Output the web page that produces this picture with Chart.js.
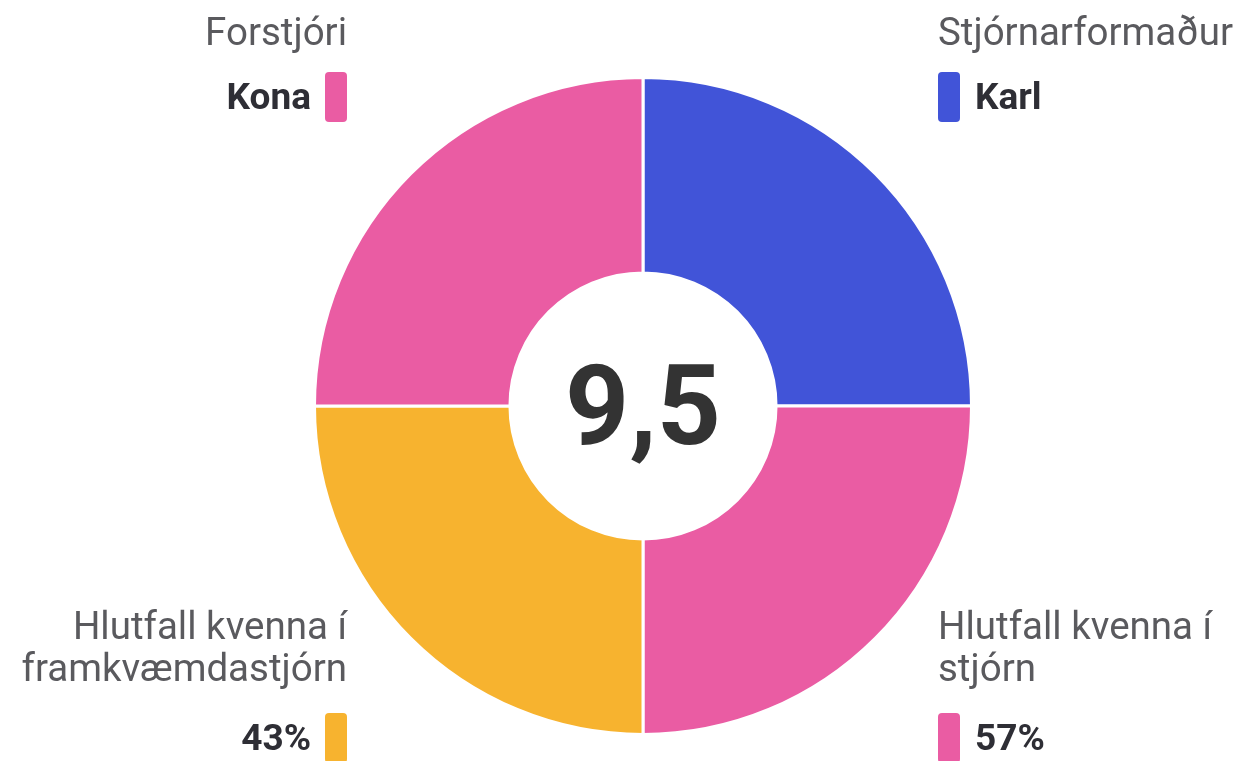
<!DOCTYPE html>
<html>
<head>
    <meta charset="UTF-8">
    <title>Kynjahlutfall</title>
    <script src="https://cdn.jsdelivr.net/npm/chart.js"></script>
    <style>
        html, body { margin: 0; padding: 0; background: #fff; }
        body { width: 1245px; height: 761px; position: relative; overflow: hidden; font-family: Roboto, "Noto Sans", sans-serif; }
        #chartBox { position: absolute; left: 0; top: 0; width: 1245px; height: 761px; }
        .lbl { position: absolute; font-size: 38.5px; color: #5a5a5e; line-height: 42px; white-space: nowrap; }
        .val { position: absolute; font-size: 37px; font-weight: bold; color: #2e2e35; line-height: 42px; white-space: nowrap; }
        .sw { position: absolute; width: 22px; height: 50px; border-radius: 4px; }
        .right { text-align: right; }
        #center { position: absolute; left: 543px; width: 200px; top: 336px; text-align: center; font-size: 112px; font-weight: bold; color: #333; line-height: 140px; }
    </style>
</head>
<body>
<div id="chartBox"><canvas id="donut"></canvas></div>
<div id="overlay"></div>
<div id="center"></div>
<script>
    // gögn
    var categories = ['Stjórnarformaður', 'Hlutfall kvenna í stjórn', 'Hlutfall kvenna í framkvæmdastjórn', 'Forstjóri'];
    var displayValues = ['Karl', '57%', '43%', 'Kona'];
    var sliceWeights = [1, 1, 1, 1];
    var sliceColors = ['#4154d8', '#ea5ca3', '#f7b32f', '#ea5ca3'];
    var centerValue = '9,5';

    var ctx = document.getElementById('donut').getContext('2d');
    var donut = new Chart(ctx, {
        type: 'doughnut',
        data: {
            labels: categories,
            datasets: [{
                data: sliceWeights,
                backgroundColor: sliceColors,
                borderColor: '#ffffff',
                borderWidth: 3
            }]
        },
        options: {
            responsive: true,
            maintainAspectRatio: false,
            animation: false,
            cutout: '40.5%',
            layout: {
                padding: { top: 76, bottom: 25, left: 313, right: 272 }
            },
            plugins: {
                legend: { display: false },
                tooltip: { enabled: false }
            }
        }
    });

    document.getElementById('center').textContent = centerValue;

    // merkimiðar við hvert horn
    var spots = [
        { side: 'left',  lines: [categories[0]], top: 11, swatchTop: 72, valTop: 76 },
        { side: 'left',  lines: ['Hlutfall kvenna í', 'stjórn'], top: 605, swatchTop: 713, valTop: 717 },
        { side: 'right', lines: ['Hlutfall kvenna í', 'framkvæmdastjórn'], top: 605, swatchTop: 713, valTop: 717 },
        { side: 'right', lines: [categories[3]], top: 11, swatchTop: 72, valTop: 76 }
    ];
    var overlay = document.getElementById('overlay');
    spots.forEach(function(s, i) {
        var lbl = document.createElement('div');
        lbl.className = 'lbl';
        lbl.innerHTML = s.lines.join('<br>');
        var sw = document.createElement('div');
        sw.className = 'sw';
        sw.style.background = sliceColors[i];
        sw.style.top = s.swatchTop + 'px';
        var val = document.createElement('div');
        val.className = 'val';
        val.textContent = displayValues[i];
        val.style.top = s.valTop + 'px';
        lbl.style.top = s.top + 'px';
        if (s.side === 'left') {
            lbl.style.left = '938px';
            sw.style.left = '938px';
            val.style.left = '975px';
        } else {
            lbl.className += ' right';
            lbl.style.right = (1245 - 347) + 'px';
            sw.style.left = '325px';
            val.style.right = (1245 - 311) + 'px';
        }
        overlay.appendChild(lbl);
        overlay.appendChild(sw);
        overlay.appendChild(val);
    });
</script>
</body>
</html>
